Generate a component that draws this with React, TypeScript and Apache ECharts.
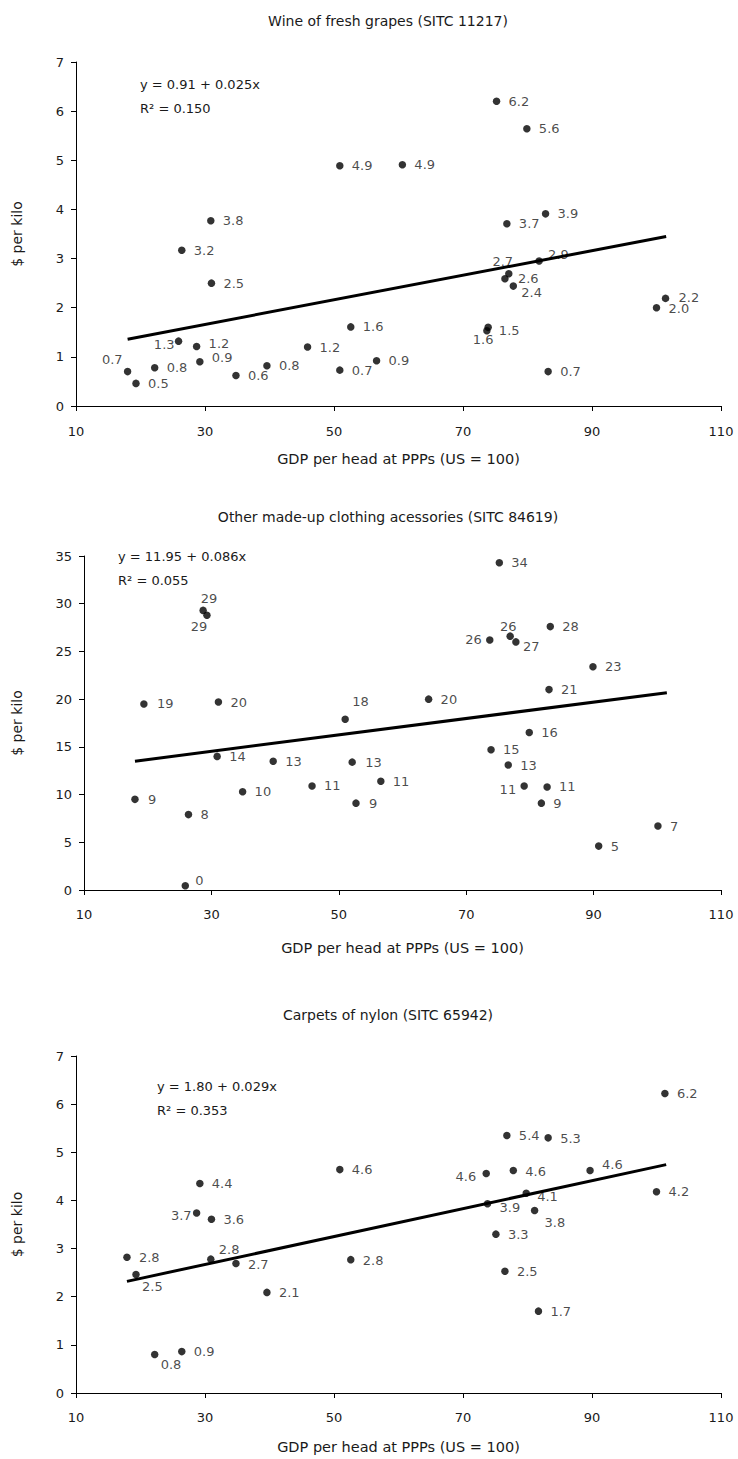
import { useEffect, useRef } from "react";
import * as echarts from "echarts";

// ---------- data ----------
const titles = [
  "Wine of fresh grapes (SITC 11217)",
  "Other made-up clothing acessories (SITC 84619)",
  "Carpets of nylon (SITC 65942)",
];
const xAxisName = "GDP per head at PPPs (US = 100)";
const yAxisName = "$ per kilo";
const xTicks = [10, 30, 50, 70, 90, 110];
const yMax = [7, 35, 7];
const yInterval = [1, 5, 1];

const intercepts = [0.91, 11.95, 1.8];
const slopes = [0.025, 0.086, 0.029];
const r2 = ["0.150", "0.055", "0.353"];
const fitRangeX = [
  [18, 101.5],
  [18, 101.5],
  [17.9, 101.5],
];

// Chart 1: wine
const wineX = [18.0, 19.3, 22.2, 25.9, 28.7, 29.2, 30.9, 26.4, 31.0, 34.8, 39.6, 45.9, 50.9, 50.9, 52.6, 56.6, 60.6, 75.2, 79.9, 76.8, 82.8, 81.8, 77.1, 76.5, 77.8, 101.4, 100.0, 73.9, 73.7, 83.2];
const wineY = [0.70, 0.46, 0.78, 1.32, 1.21, 0.90, 3.77, 3.17, 2.50, 0.62, 0.82, 1.20, 4.89, 0.73, 1.61, 0.92, 4.91, 6.20, 5.64, 3.71, 3.91, 2.95, 2.69, 2.59, 2.44, 2.19, 2.00, 1.60, 1.53, 0.70];
const wineLabels = ["0.7", "0.5", "0.8", "1.3", "1.2", "0.9", "3.8", "3.2", "2.5", "0.6", "0.8", "1.2", "4.9", "0.7", "1.6", "0.9", "4.9", "6.2", "5.6", "3.7", "3.9", "2.9", "2.7", "2.6", "2.4", "2.2", "2.0", "1.6", "1.5", "0.7"];

// Chart 2: clothing accessories
const clothX = [28.7, 29.3, 19.4, 31.1, 51.0, 30.9, 39.7, 52.1, 45.8, 52.7, 18.0, 34.9, 26.4, 25.9, 75.2, 73.7, 76.9, 77.8, 83.2, 89.9, 83.0, 64.1, 79.9, 73.9, 76.6, 79.1, 82.7, 81.8, 56.6, 100.1, 90.8];
const clothY = [29.3, 28.8, 19.5, 19.7, 17.9, 14.0, 13.5, 13.4, 10.9, 9.1, 9.5, 10.3, 7.9, 0.45, 34.3, 26.2, 26.6, 26.0, 27.6, 23.4, 21.0, 20.0, 16.5, 14.7, 13.1, 10.9, 10.8, 9.1, 11.4, 6.7, 4.6];
const clothLabels = ["29", "29", "19", "20", "18", "14", "13", "13", "11", "9", "9", "10", "8", "0", "34", "26", "26", "27", "28", "23", "21", "20", "16", "15", "13", "11", "11", "9", "11", "7", "5"];

// Chart 3: carpets
const carpX = [17.9, 19.3, 22.2, 26.4, 29.2, 28.7, 31.0, 30.9, 34.8, 39.6, 50.9, 52.6, 101.3, 76.8, 83.2, 73.6, 77.8, 89.7, 100.0, 79.8, 73.8, 81.1, 75.1, 76.5, 81.7];
const carpY = [2.82, 2.46, 0.80, 0.86, 4.35, 3.74, 3.61, 2.78, 2.69, 2.09, 4.64, 2.77, 6.22, 5.35, 5.30, 4.56, 4.62, 4.62, 4.18, 4.15, 3.93, 3.79, 3.30, 2.53, 1.70];
const carpLabels = ["2.8", "2.5", "0.8", "0.9", "4.4", "3.7", "3.6", "2.8", "2.7", "2.1", "4.6", "2.8", "6.2", "5.4", "5.3", "4.6", "4.6", "4.6", "4.2", "4.1", "3.9", "3.8", "3.3", "2.5", "1.7"];

// ---------- label layout (anchor, dx, dy relative to the dot) ----------
type LL = [string, number, number];
const wineLayout: LL[] = [["R", -5, -12], ["L", 12, 0], ["L", 12, 0], ["R", -4, 3], ["L", 12, -3], ["L", 12, -4], ["L", 12, 0], ["L", 12, 0], ["L", 12, 0], ["L", 12, 0], ["L", 12, 0], ["L", 12, 0], ["L", 12, 0], ["L", 12, 0], ["L", 12, 0], ["L", 12, 0], ["L", 12, 0], ["L", 12, 0], ["L", 12, 0], ["L", 12, 0], ["L", 12, 0], ["L", 9, -7], ["C", -6, -12], ["L", 13, 0], ["L", 8, 6], ["L", 13, -1], ["L", 12, 1], ["C", -5, 12], ["L", 12, 0], ["L", 12, 0]];
const clothLayout: LL[] = [["C", 6, -12], ["C", -8, 11], ["L", 13, 0], ["L", 12, 0], ["L", 7, -18], ["L", 12, 0], ["L", 12, 0], ["L", 13, 0], ["L", 12, 0], ["L", 13, 0], ["L", 13, 0], ["L", 12, 0], ["L", 12, 0], ["L", 10, -5], ["L", 12, 0], ["R", -8, 0], ["C", -2, -10], ["L", 7, 5], ["L", 12, 0], ["L", 12, 0], ["L", 12, 0], ["L", 12, 0], ["L", 12, 0], ["L", 12, 0], ["L", 12, 1], ["R", -8, 4], ["L", 12, 0], ["L", 12, 0], ["L", 12, 0], ["L", 12, 0], ["L", 12, 0]];
const carpLayout: LL[] = [["L", 12, 0], ["L", 6, 12], ["L", 6, 10], ["L", 12, 0], ["L", 12, 0], ["R", -5, 3], ["L", 12, 0], ["L", 8, -10], ["L", 12, 1], ["L", 12, 0], ["L", 12, 0], ["L", 12, 1], ["L", 12, 0], ["L", 12, 0], ["L", 12, 1], ["R", -10, 3], ["L", 12, 1], ["L", 12, -6], ["L", 12, 0], ["L", 11, 3], ["L", 12, 4], ["L", 10, 12], ["L", 12, 0], ["L", 12, 0], ["L", 12, 0]];

const allX = [wineX, clothX, carpX];
const allY = [wineY, clothY, carpY];
const allLabels = [wineLabels, clothLabels, carpLabels];
const allLayouts = [wineLayout, clothLayout, carpLayout];

// ---------- layout ----------
const FONT = "'DejaVu Sans', sans-serif";
const TEXT = "#1a1a1a";
const GRIDS = [
  { left: 76, top: 62, width: 645, height: 344 },
  { left: 84, top: 556, width: 637, height: 334 },
  { left: 76, top: 1056, width: 645, height: 337 },
];
const titleY = [21, 517, 1015];
const xNameY = [459, 948, 1447];
const eqX = [140, 118, 157];
const eqY = [84, 556, 1086];
const xLabelMargin = [19, 18, 18];

function buildOption() {
  const grid = GRIDS.map((g) => ({ ...g, containLabel: false }));
  const xAxis = GRIDS.map((_, i) => ({
    type: "value",
    gridIndex: i,
    min: xTicks[0],
    max: xTicks[xTicks.length - 1],
    axisLine: { show: true, onZero: false, lineStyle: { color: "#000", width: 1 } },
    axisTick: { show: true, inside: false, length: 5, customValues: xTicks, lineStyle: { color: "#000" } },
    axisLabel: { customValues: xTicks, margin: xLabelMargin[i], color: TEXT, fontSize: 13, fontFamily: FONT },
    splitLine: { show: false },
  }));
  const yAxis = GRIDS.map((_, i) => ({
    type: "value",
    gridIndex: i,
    min: 0,
    max: yMax[i],
    interval: yInterval[i],
    axisLine: { show: true, onZero: false, lineStyle: { color: "#000", width: 1 } },
    axisTick: { show: true, inside: false, length: 5, lineStyle: { color: "#000" } },
    axisLabel: { margin: 12, color: TEXT, fontSize: 13, fontFamily: FONT },
    splitLine: { show: false },
  }));

  const series: any[] = [];
  for (let i = 0; i < 3; i++) {
    const xs = allX[i];
    const ys = allY[i];
    const labels = allLabels[i];
    const lay = allLayouts[i];
    series.push({
      type: "scatter",
      xAxisIndex: i,
      yAxisIndex: i,
      symbol: "circle",
      symbolSize: 7.5,
      itemStyle: { color: "#000" },
      z: 2,
      label: {
        show: true,
        color: TEXT,
        fontSize: 13,
        fontFamily: FONT,
        formatter: (p: any) => labels[p.dataIndex],
      },
      data: xs.map((x, k) => {
        const [a, dx, dy] = lay[k];
        return {
          value: [x, ys[k]],
          label: {
            position: ["50%", "50%"],
            offset: [dx, dy],
            align: a === "L" ? "left" : a === "R" ? "right" : "center",
            verticalAlign: "middle",
          },
        };
      }),
    });
    const [x0, x1] = fitRangeX[i];
    series.push({
      type: "line",
      xAxisIndex: i,
      yAxisIndex: i,
      showSymbol: false,
      symbol: "none",
      z: 3,
      lineStyle: { color: "#000", width: 3 },
      data: [
        [x0, intercepts[i] + slopes[i] * x0],
        [x1, intercepts[i] + slopes[i] * x1],
      ],
    });
  }

  const graphic: any[] = [];
  for (let i = 0; i < 3; i++) {
    const g = GRIDS[i];
    graphic.push({
      type: "text",
      x: 388,
      y: titleY[i],
      style: { text: titles[i], fill: TEXT, font: `14px ${FONT}`, align: "center", verticalAlign: "middle" },
    });
    graphic.push({
      type: "text",
      x: g.left + g.width / 2,
      y: xNameY[i],
      style: { text: xAxisName, fill: TEXT, font: `14.5px ${FONT}`, align: "center", verticalAlign: "middle" },
    });
    graphic.push({
      type: "text",
      x: 17,
      y: g.top + g.height / 2,
      rotation: Math.PI / 2,
      style: { text: yAxisName, fill: TEXT, font: `14px ${FONT}`, align: "center", verticalAlign: "middle" },
    });
    graphic.push({
      type: "text",
      x: eqX[i],
      y: eqY[i],
      style: {
        text: `y = ${intercepts[i].toFixed(2)} + ${slopes[i].toFixed(3)}x`,
        fill: TEXT,
        font: `13px ${FONT}`,
        align: "left",
        verticalAlign: "middle",
      },
    });
    graphic.push({
      type: "text",
      x: eqX[i],
      y: eqY[i] + 24,
      style: { text: `R² = ${r2[i]}`, fill: TEXT, font: `13px ${FONT}`, align: "left", verticalAlign: "middle" },
    });
  }

  return {
    animation: false,
    backgroundColor: "#fff",
    textStyle: { fontFamily: FONT },
    grid,
    xAxis,
    yAxis,
    series,
    graphic,
  };
}

export default function App() {
  const ref = useRef<HTMLDivElement>(null);
  useEffect(() => {
    const chart = echarts.init(ref.current!, null, { renderer: "svg" });
    chart.setOption(buildOption() as any);
    return () => chart.dispose();
  }, []);
  return (
    <div
      ref={ref}
      style={{ position: "absolute", left: 0, top: 0, width: 738, height: 1459, background: "#fff" }}
    />
  );
}
